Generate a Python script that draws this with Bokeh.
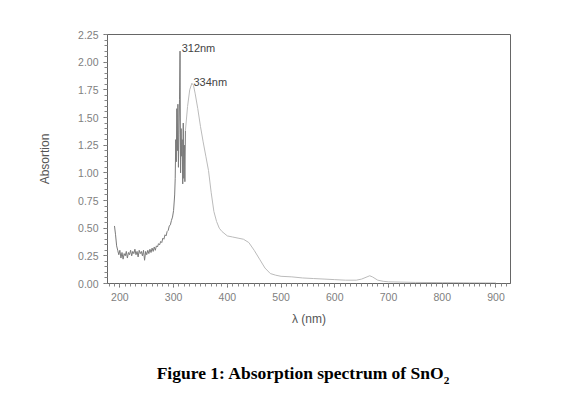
from bokeh.plotting import figure
from bokeh.models import Label, NumeralTickFormatter, FixedTicker, Div
from bokeh.layouts import column
from bokeh.embed import file_html
from bokeh.resources import INLINE

# noisy UV part of the spectrum (nm, absorbance)
wl_noisy = [190, 192, 194, 196, 198, 200, 202, 204, 206, 208, 210, 212, 214, 216, 218,
            220, 222, 224, 226, 228, 230, 232, 234, 236, 238, 240, 242, 244, 246, 248,
            250, 252, 254, 256, 258, 260, 262, 264, 266, 268, 270, 272, 274, 276, 278,
            280, 282, 284, 286, 288, 290, 292, 294, 296, 298, 300, 302, 303, 304, 305,
            306, 307, 308, 309, 310, 311, 312, 313, 314, 315, 316, 317, 318, 319, 320,
            321, 322]
abs_noisy = [0.52, 0.44, 0.34, 0.30, 0.26, 0.30, 0.23, 0.28, 0.22, 0.27, 0.25, 0.29, 0.23, 0.28, 0.26,
             0.30, 0.25, 0.29, 0.27, 0.31, 0.26, 0.29, 0.24, 0.30, 0.27, 0.29, 0.25, 0.30, 0.21, 0.29,
             0.26, 0.30, 0.27, 0.31, 0.28, 0.32, 0.29, 0.33, 0.30, 0.34, 0.33, 0.36, 0.35, 0.38, 0.37,
             0.41, 0.40, 0.44, 0.43, 0.47, 0.48, 0.52, 0.53, 0.57, 0.60, 0.66, 0.80, 0.95, 1.30, 1.10,
             1.58, 1.20, 1.62, 1.05, 1.35, 1.66, 2.10, 1.00, 1.40, 1.15, 1.30, 0.90, 1.45, 0.95, 1.25,
             0.92, 1.38]

# smooth part of the spectrum
wl_smooth = [322, 326, 330, 334, 337, 340, 345, 350, 355, 360, 365, 370, 375, 380, 385,
             390, 400, 410, 420, 430, 440, 450, 460, 470, 480, 490, 500, 520, 540, 560,
             580, 600, 620, 640, 650, 660, 665, 670, 680, 690, 700, 750, 800, 850, 900]
abs_smooth = [1.38, 1.60, 1.75, 1.81, 1.79, 1.72, 1.58, 1.42, 1.28, 1.15, 1.02, 0.82, 0.65, 0.56, 0.50,
              0.47, 0.43, 0.42, 0.41, 0.40, 0.37, 0.30, 0.22, 0.14, 0.09, 0.075, 0.065, 0.06, 0.05, 0.045,
              0.04, 0.035, 0.03, 0.03, 0.04, 0.06, 0.07, 0.06, 0.03, 0.02, 0.015, 0.01, 0.008, 0.006, 0.005]

x_ticks = [200, 300, 400, 500, 600, 700, 800, 900]
y_ticks = [0.0, 0.25, 0.5, 0.75, 1.0, 1.25, 1.5, 1.75, 2.0, 2.25]
peak_labels = ["312nm", "334nm"]
peak_x = [315, 337]
peak_y = [2.13, 1.82]
caption = 'Figure 1: Absorption spectrum of SnO<sub style="font-size:65%">2</sub>'

p = figure(width=554, height=338, output_backend="svg", toolbar_location=None,
           x_range=(177, 927), y_range=(0, 2.25),
           min_border_left=107, min_border_right=44, min_border_top=34, min_border_bottom=55)
p.grid.visible = False
p.background_fill_color = "white"
p.border_fill_color = "white"
p.outline_line_color = "#666666"
p.outline_line_width = 1

p.line(wl_noisy, abs_noisy, line_color="#7a7a7a", line_width=1)
p.line(wl_smooth, abs_smooth, line_color="#bbbbbb", line_width=1)

xt = FixedTicker(ticks=x_ticks, minor_ticks=list(range(180, 930, 10)))
yt = FixedTicker(ticks=y_ticks, minor_ticks=[i * 0.05 for i in range(46)])
p.xaxis.ticker = xt
p.yaxis.ticker = yt
p.yaxis.formatter = NumeralTickFormatter(format="0.00")

for ax in (p.xaxis[0], p.yaxis[0]):
    ax.axis_line_color = "#666666"
    ax.major_tick_line_color = "#666666"
    ax.minor_tick_line_color = "#888888"
    ax.major_tick_out = 4
    ax.major_tick_in = 0
    ax.minor_tick_out = 3
    ax.minor_tick_in = 0
    ax.major_label_text_font = "Liberation Sans"
    ax.major_label_text_font_size = "10.5px"
    ax.major_label_text_color = "#808080"
    ax.axis_label_text_font = "Liberation Sans"
    ax.axis_label_text_font_style = "normal"
    ax.axis_label_text_color = "#555555"

p.xaxis.axis_label = "λ (nm)"
p.xaxis.axis_label_text_font_size = "12px"
p.xaxis.axis_label_standoff = 8
p.yaxis.axis_label = "Absortion"
p.yaxis.axis_label_text_font_size = "12px"
p.yaxis.axis_label_standoff = 23
p.xaxis.major_label_standoff = 5
p.yaxis.major_label_standoff = 5

for t, xx, yy in zip(peak_labels, peak_x, peak_y):
    p.add_layout(Label(x=xx, y=yy, text=t, text_font="Liberation Sans", text_font_size="11px",
                       text_color="#444444", text_baseline="middle", text_align="left"))

cap = Div(text=caption, width=554, height=47,
          styles={"font-family": "Liberation Serif", "font-weight": "bold", "font-size": "17.5px",
                  "color": "black", "text-align": "center", "padding-top": "21px",
                  "padding-left": "42px", "box-sizing": "border-box", "line-height": "18px"})

layout = column(p, cap, spacing=0)
open("out.html", "w").write(file_html(layout, INLINE))
